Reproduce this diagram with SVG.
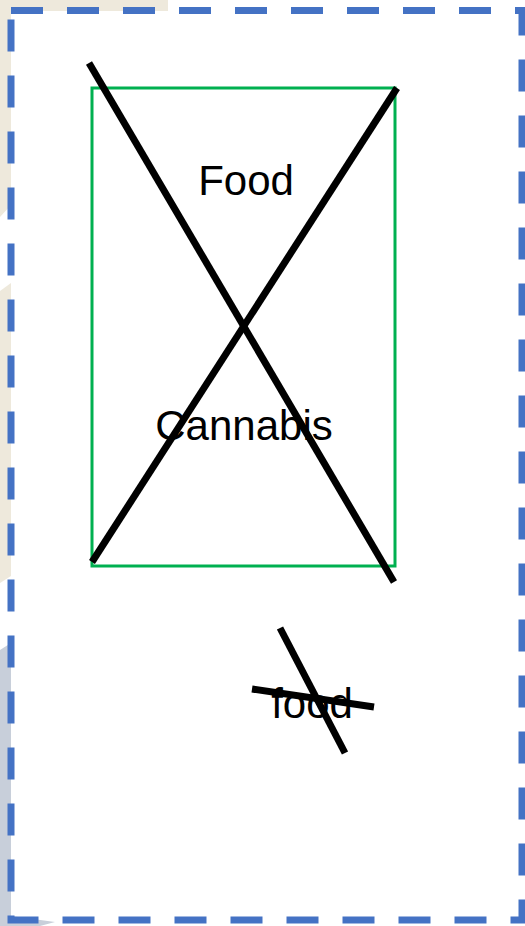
<svg xmlns="http://www.w3.org/2000/svg" width="525" height="926" viewBox="0 0 525 926">
  <style>
    .txt { font-family: "Liberation Sans", Arial, sans-serif; font-size: 42px; fill: #000000; text-anchor: middle; }
    .cross { stroke: #000000; stroke-width: 7; fill: none; }
  </style>
  <rect x="0" y="0" width="525" height="926" fill="#ffffff"/>
  <g id="background-shapes">
    <path d="M0,0 L168,0 L168,11 L11,11 L11,205 L0,217 Z" fill="#EEE9DC"/>
    <path d="M0,291 L11,283 L11,576 L0,583 Z" fill="#EEE9DC"/>
    <path d="M0,650 L11,643 L11,916 L55,922 L40,926 L0,926 Z" fill="#C8CFDA"/>
  </g>
  <g id="frame">
    <rect x="11" y="10.5" width="511" height="909.5" fill="none" stroke="#4472C4" stroke-width="7" stroke-dasharray="32 24"/>
  </g>
  <g id="box">
    <rect x="92" y="88" width="303" height="478" fill="none" stroke="#00B050" stroke-width="3"/>
    <text class="txt" x="246" y="195">Food</text>
    <text class="txt" x="244" y="440">Cannabis</text>
  </g>
  <g id="food-label">
    <text class="txt" x="312" y="718">food</text>
  </g>
  <g id="connectors">
    <line class="cross" x1="89" y1="63" x2="394" y2="582"/>
    <line class="cross" x1="92" y1="562" x2="397" y2="88"/>
    <line class="cross" x1="280" y1="628" x2="345" y2="753"/>
    <line class="cross" x1="252" y1="689" x2="374" y2="707"/>
  </g>
</svg>
